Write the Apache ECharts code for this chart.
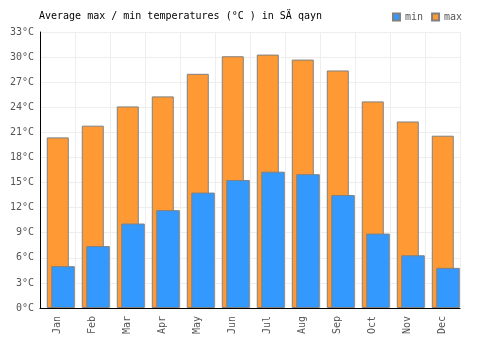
<!DOCTYPE html>
<html>
<head>
<meta charset="utf-8">
<script src="https://cdn.jsdelivr.net/npm/echarts@6/dist/echarts.min.js"></script>
<style>html,body{margin:0;padding:0;background:#fff}#c{width:500px;height:350px}</style>
</head>
<body>
<div id="c"></div>
<script>
var months = ['Jan','Feb','Mar','Apr','May','Jun','Jul','Aug','Sep','Oct','Nov','Dec'];
var maxTemps = [20.4, 21.8, 24.1, 25.3, 28.0, 30.1, 30.3, 29.7, 28.4, 24.7, 22.3, 20.6];
var minTemps = [5.0, 7.4, 10.1, 11.7, 13.8, 15.3, 16.3, 16.0, 13.5, 8.9, 6.3, 4.8];
var titleText = 'Average max / min temperatures (°C ) in SÄ qayn';

var FONT = 'DejaVu Sans Mono';
var chart = echarts.init(document.getElementById('c'), null, {renderer: 'canvas'});
chart.setOption({
  animation: false,
  backgroundColor: '#fff',
  title: {
    text: titleText, left: 34, top: 6,
    textStyle: {fontFamily: FONT, fontSize: 10, fontWeight: 'normal', color: '#000'}
  },
  legend: {
    data: ['min', 'max'], left: 387, top: 7,
    itemWidth: 7, itemHeight: 7, itemGap: 8, icon: 'rect',
    textStyle: {fontFamily: FONT, fontSize: 10, color: '#555'}
  },
  grid: {left: 40, right: 40, top: 32, bottom: 42},
  xAxis: {
    type: 'category', data: months,
    axisLine: {lineStyle: {color: '#000', width: 1}},
    axisTick: {show: false},
    splitLine: {show: true, interval: 0, lineStyle: {color: '#eeeeee'}},
    axisLabel: {rotate: 90, interval: 0, margin: 8, fontFamily: FONT, fontSize: 10, color: '#555'}
  },
  yAxis: {
    type: 'value', min: 0, max: 33, interval: 3,
    axisLine: {show: true, lineStyle: {color: '#000', width: 1}},
    axisTick: {show: false},
    splitLine: {show: true, lineStyle: {color: '#eeeeee'}},
    axisLabel: {formatter: '{value}°C', margin: 6, fontFamily: FONT, fontSize: 10, color: '#555'}
  },
  series: [
    {name: 'pad', type: 'bar', data: [], barWidth: 32, barGap: '-79.5%', silent: true},
    {name: 'max', type: 'bar', data: maxTemps, barWidth: 22, barGap: '-79.5%',
      itemStyle: {color: '#ff9933', borderColor: '#808080', borderWidth: 1}},
    {name: 'min', type: 'bar', data: minTemps, barWidth: 23.5, barGap: '-79.5%',
      itemStyle: {color: '#3399ff', borderColor: '#808080', borderWidth: 1}}
  ]
});
</script>
</body>
</html>
